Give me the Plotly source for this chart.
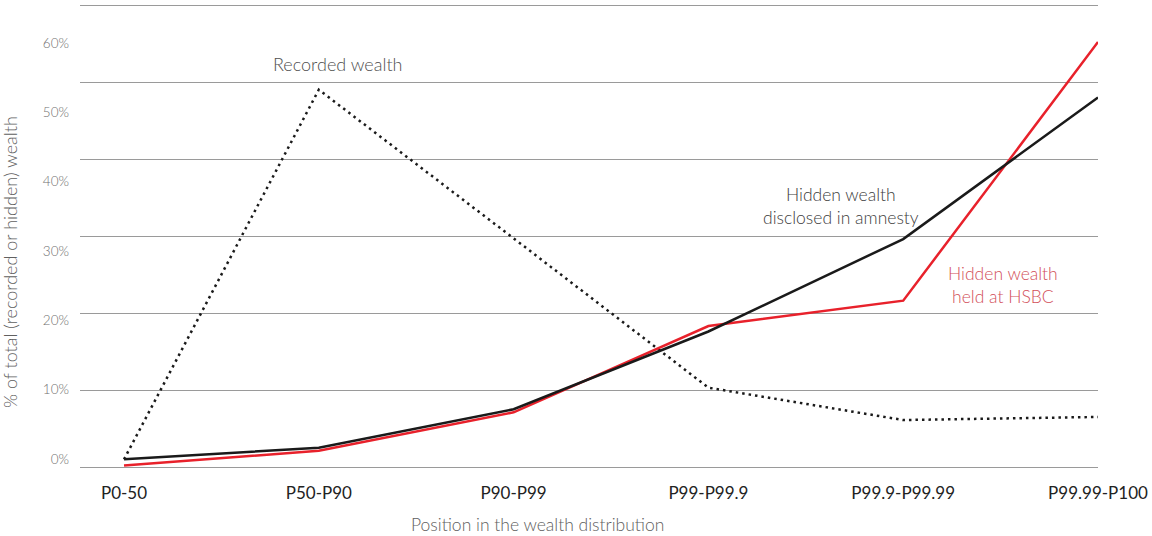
import plotly.graph_objects as go

categories = ["P0-50", "P50-P90", "P90-P99", "P99-P99.9", "P99.9-P99.99", "P99.99-P100"]
recorded = [1.0, 49.0, 29.7, 10.3, 6.1, 6.5]
hidden_amnesty = [1.0, 2.5, 7.5, 17.6, 29.6, 48.0]
hidden_hsbc = [0.2, 2.1, 7.1, 18.3, 21.6, 55.2]
y_ticks = [0, 10, 20, 30, 40, 50, 60]
y_tick_text = ["0%", "10%", "20%", "30%", "40%", "50%", "60%"]

FONT = "Lato"
xpos = list(range(len(categories)))

fig = go.Figure()
fig.add_trace(go.Scatter(x=xpos, y=recorded, mode="lines",
                         line=dict(color="#1a1a1a", width=2.5, dash="2.5px,4px"),
                         cliponaxis=False, hoverinfo="skip"))
fig.add_trace(go.Scatter(x=xpos, y=hidden_hsbc, mode="lines",
                         line=dict(color="#e8212b", width=2.5),
                         cliponaxis=False, hoverinfo="skip"))
fig.add_trace(go.Scatter(x=xpos, y=hidden_amnesty, mode="lines",
                         line=dict(color="#1a1a1a", width=2.5),
                         cliponaxis=False, hoverinfo="skip"))
# invisible trace to carry the label axis
fig.add_trace(go.Scatter(x=[0], y=[0], yaxis="y2", mode="markers",
                         marker=dict(opacity=0), hoverinfo="skip"))

# plot area: top=3, bottom=469 (height 466); left=80, right=1098
fig.update_layout(
    width=1152, height=536,
    margin=dict(l=80, r=54, t=3, b=67),
    paper_bgcolor="white", plot_bgcolor="white",
    showlegend=False,
    font=dict(family=FONT, color="#555"),
    xaxis=dict(
        range=[-0.226, 5.0],
        tickmode="array", tickvals=xpos, ticktext=categories,
        showgrid=False, zeroline=False, showline=False, ticks="",
        tickfont=dict(size=17, color="#222", family=FONT),
        ticklabelstandoff=12,
    ),
    yaxis=dict(
        range=[-0.2597, 60.2597],
        tickmode="array", tickvals=y_ticks,
        showticklabels=False,
        showgrid=True, gridcolor="#9a9a9a", gridwidth=1.3,
        zeroline=False, showline=False, ticks="",
    ),
    yaxis2=dict(
        overlaying="y", side="left", anchor="x",
        range=[-1.4423, 65.769],
        tickmode="array", tickvals=y_ticks, ticktext=y_tick_text,
        showgrid=False, zeroline=False, showline=False, ticks="",
        tickfont=dict(size=13.5, color="#707070", family=FONT, weight=300),
        ticklabelstandoff=10,
    ),
    annotations=[
        dict(text="Position in the wealth distribution", xref="paper", yref="paper",
             x=(537 - 80) / (1098 - 80), y=-(524 - 469) / 466, showarrow=False,
             xanchor="center", yanchor="middle",
             font=dict(size=17.5, color="#606060", family=FONT, weight=300)),
        dict(text="% of total (recorded or hidden) wealth", xref="paper", yref="paper",
             x=-(80 - 10) / (1098 - 80), y=(469 - 262) / 466, showarrow=False,
             textangle=-90, xanchor="center", yanchor="middle",
             font=dict(size=18, color="#606060", family=FONT, weight=300)),
        dict(text="Recorded wealth", x=1.1, y=52.4, xref="x", yref="y",
             showarrow=False, xanchor="center", yanchor="middle",
             font=dict(size=18, color="#505050", family=FONT, weight=300)),
        dict(text="Hidden wealth<br>disclosed in amnesty", x=3.68, y=33.9, xref="x", yref="y",
             showarrow=False, xanchor="center", yanchor="middle",
             font=dict(size=17.5, color="#404040", family=FONT, weight=300)),
        dict(text="Hidden wealth<br>held at HSBC", x=4.51, y=23.7, xref="x", yref="y",
             showarrow=False, xanchor="center", yanchor="middle",
             font=dict(size=17.5, color="#d2505a", family=FONT, weight=300)),
    ],
)

fig.write_html("out.html", config={"displayModeBar": False},
               post_script="document.body.style.margin='0';")
